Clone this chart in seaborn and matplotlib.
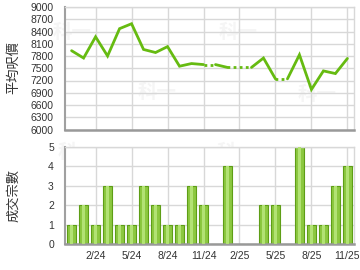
import matplotlib
matplotlib.use('Agg')
import matplotlib.pyplot as plt
import seaborn as sns
import pandas as pd

# ---- data ----
months = ['12/23', '1/24', '2/24', '3/24', '4/24', '5/24', '6/24', '7/24', '8/24',
          '9/24', '10/24', '11/24', '12/24', '1/25', '2/25', '3/25', '4/25', '5/25',
          '6/25', '7/25', '8/25', '9/25', '10/25', '11/25']
prices = [7930, 7750, 8270, 7800, 8470, 8590, 7960, 7885, 8030, 7550, 7615, 7590,
          None, 7520, None, None, 7750, 7240, None, 7830, 6980, 7435, 7370, 7740]
counts = [1, 2, 1, 3, 1, 1, 3, 2, 1, 1, 3, 2, 0, 4, 0, 0, 2, 2, 0, 5, 1, 1, 3, 4]
tick_labels = ['2/24', '5/24', '8/24', '11/24', '2/25', '5/25', '8/25', '11/25']
price_ticks = [6000, 6300, 6600, 6900, 7200, 7500, 7800, 8100, 8400, 8700, 9000]
count_ticks = [0, 1, 2, 3, 4, 5]
ylabel_top = '平均呎價'
ylabel_bottom = '成交宗數'
watermark = '科一'

sns.set_theme(style='white')
plt.rcParams['font.family'] = ['Liberation Sans', 'Noto Sans CJK TC']

W, H = 360, 270
fig = plt.figure(figsize=(W / 100, H / 100), dpi=100)
ax1 = fig.add_axes([65 / W, 1 - 129.5 / H, 289 / W, 122.5 / H])
ax2 = fig.add_axes([65 / W, 1 - 244 / H, 289 / W, 97 / H])

GRID = '#d8d8d8'
LINE = '#66bb11'

# ---- price line: solid for real points, dotted (flat) into missing months ----
filled = []
last = None
for p in prices:
    if p is not None:
        last = p
    filled.append(last)

runs = []
for i in range(len(prices) - 1):
    style = 'dot' if prices[i + 1] is None else 'solid'
    if runs and runs[-1][0] == style and runs[-1][2] == i:
        runs[-1][2] = i + 1
    else:
        runs.append([style, i, i + 1])

rows = []
for rid, (style, s, e) in enumerate(runs):
    for k in range(s, e + 1):
        rows.append({'x': k, 'y': filled[k], 'run': rid, 'style': style})
df_line = pd.DataFrame(rows)

sns.lineplot(data=df_line[df_line['style'] == 'solid'], x='x', y='y', units='run',
             estimator=None, color=LINE, lw=2, ax=ax1, legend=False,
             solid_joinstyle='miter', zorder=3)
sns.lineplot(data=df_line[df_line['style'] == 'dot'], x='x', y='y', units='run',
             estimator=None, color=LINE, lw=2, ax=ax1, legend=False,
             linestyle=(0, (1, 1.2)), zorder=3)

# ---- bars ----
df_bar = pd.DataFrame({'month': months, 'count': counts})
sns.barplot(data=df_bar, x='month', y='count', order=months, color='#8cc840',
            saturation=1, width=0.7, edgecolor='#5e9e16', linewidth=0.8, ax=ax2,
            zorder=2)
sns.barplot(data=df_bar, x='month', y='count', order=months, color='#b2e274',
            saturation=1, width=0.28, linewidth=0, ax=ax2, zorder=3)

tick_pos = [months.index(t) for t in tick_labels]
for ax in (ax1, ax2):
    ax.set_xlim(-0.55, len(months) - 0.45)
    ax.set_xticks(tick_pos)
    ax.set_axisbelow(True)
    ax.grid(True, color=GRID, lw=1)
    ax.set_xlabel('')
    for side in ('top', 'right'):
        ax.spines[side].set_color(GRID)
        ax.spines[side].set_linewidth(1)
    ax.spines['left'].set_color('#a0a0a0')
    ax.spines['left'].set_linewidth(1.5)
    ax.spines['bottom'].set_color('#999999')
    ax.spines['bottom'].set_linewidth(1.8)
    ax.tick_params(axis='y', length=0, pad=8, labelsize=7.5, labelcolor='#333333')

ax1.set_ylim(6000, 9000)
ax1.set_yticks(price_ticks)
ax1.set_yticklabels([str(v) for v in price_ticks])
ax1.set_xticklabels([])
ax1.tick_params(axis='x', length=0)

ax2.set_ylim(0, 5)
ax2.set_yticks(count_ticks)
ax2.set_yticklabels([str(v) for v in count_ticks])
ax2.set_xticklabels(tick_labels)
ax2.tick_params(axis='x', length=3, width=1, color='#999999', pad=2, labelsize=7.5,
                labelcolor='#333333')

ax1.set_ylabel('')
ax2.set_ylabel('')
fig.text(14 / W, 1 - 67 / H, ylabel_top, rotation=90, ha='center', va='center',
         fontsize=9.5, color='#333333', family=['Noto Sans CJK TC'])
fig.text(14 / W, 1 - 195 / H, ylabel_bottom, rotation=90, ha='center', va='center',
         fontsize=9.5, color='#333333', family=['Noto Sans CJK TC'])

# faint watermarks
for (x, y) in [(72, 33), (238, 33), (157, 92), (317, 95),
               (77, 153), (236, 152), (157, 212), (317, 212)]:
    ax1.text(x / W, 1 - y / H, watermark, transform=fig.transFigure, ha='center',
             va='center', fontsize=14, fontweight='bold', color='#f5f5f5',
             family=['Noto Sans CJK TC'], zorder=0.1, clip_on=False)

fig.savefig('out.png', dpi=100)
